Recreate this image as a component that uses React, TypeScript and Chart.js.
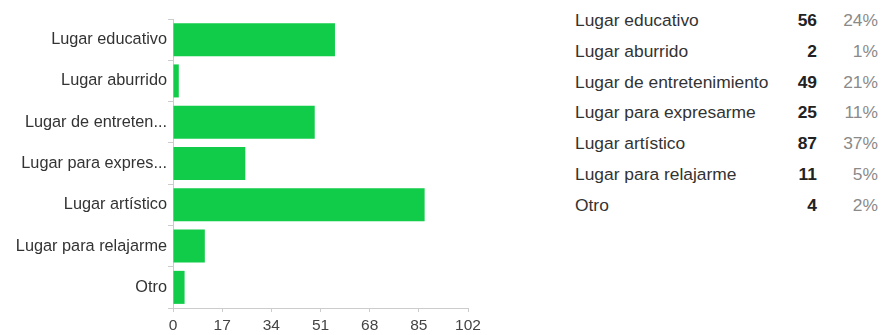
import React, { useEffect, useRef } from "react";
import { Chart, registerables } from "chart.js";

Chart.register(...registerables);

const categories = [
  "Lugar educativo",
  "Lugar aburrido",
  "Lugar de entretenimiento",
  "Lugar para expresarme",
  "Lugar artístico",
  "Lugar para relajarme",
  "Otro",
];
const axisLabels = [
  "Lugar educativo",
  "Lugar aburrido",
  "Lugar de entreten...",
  "Lugar para expres...",
  "Lugar artístico",
  "Lugar para relajarme",
  "Otro",
];
const counts = [56, 2, 49, 25, 87, 11, 4];
const percents = ["24%", "1%", "21%", "11%", "37%", "5%", "2%"];
const xTicks = [0, 17, 34, 51, 68, 85, 102];

const FONT = "'Liberation Sans', Arial, sans-serif";
const GREEN = "rgb(16, 204, 72)";

export default function App() {
  const ref = useRef<HTMLCanvasElement | null>(null);

  useEffect(() => {
    if (!ref.current) return;
    const chart = new Chart(ref.current, {
      type: "bar",
      data: {
        labels: axisLabels,
        datasets: [
          {
            data: counts,
            backgroundColor: GREEN,
            borderWidth: 0,
            categoryPercentage: 0.8,
            barPercentage: 1,
          },
        ],
      },
      options: {
        indexAxis: "y",
        responsive: false,
        animation: false,
        maintainAspectRatio: false,
        layout: { padding: { top: 19, right: 22, left: 0, bottom: 0 } },
        plugins: { legend: { display: false }, tooltip: { enabled: false } },
        scales: {
          x: {
            min: 0,
            max: 102,
            afterBuildTicks: (s: any) => {
              s.ticks = xTicks.map((v) => ({ value: v }));
            },
            afterFit: (s: any) => {
              s.height = 27;
            },
            grid: {
              display: true,
              drawOnChartArea: false,
              drawTicks: true,
              tickLength: 4,
              color: "#cccccc",
            },
            border: { display: true, color: "#cccccc" },
            ticks: {
              color: "#444444",
              font: { family: FONT, size: 15.5 },
              padding: 4,
              maxRotation: 0,
              autoSkip: false,
            },
          },
          y: {
            afterFit: (s: any) => {
              s.width = 173;
            },
            grid: {
              display: true,
              drawOnChartArea: false,
              drawTicks: true,
              tickLength: 5,
              color: "#cccccc",
            },
            border: { display: true, color: "#cccccc" },
            ticks: {
              color: "#333333",
              font: { family: FONT, size: 16.3 },
              padding: 1,
              autoSkip: false,
            },
          },
        },
      },
    });
    return () => chart.destroy();
  }, []);

  const rowTop = (i: number) => 10 + i * 30.8;

  return (
    <div
      style={{
        position: "absolute",
        left: 0,
        top: 0,
        width: 888,
        height: 335,
        background: "#fff",
        overflow: "hidden",
        fontFamily: FONT,
      }}
    >
      <canvas
        ref={ref}
        width={490}
        height={335}
        style={{ position: "absolute", left: 0, top: 0, width: 490, height: 335 }}
      />
      {categories.map((c, i) => (
        <div
          key={c}
          style={{
            position: "absolute",
            top: rowTop(i),
            left: 575,
            width: 310,
            height: 20,
            fontSize: 17.4,
            lineHeight: "20px",
          }}
        >
          <span style={{ position: "absolute", left: 0, color: "#333", whiteSpace: "nowrap" }}>{c}</span>
          <span
            style={{
              position: "absolute",
              right: 310 - 242,
              fontWeight: "bold",
              color: "#222",
            }}
          >
            {counts[i]}
          </span>
          <span style={{ position: "absolute", right: 310 - 303, color: "#8a8a8a" }}>
            {percents[i]}
          </span>
        </div>
      ))}
    </div>
  );
}
